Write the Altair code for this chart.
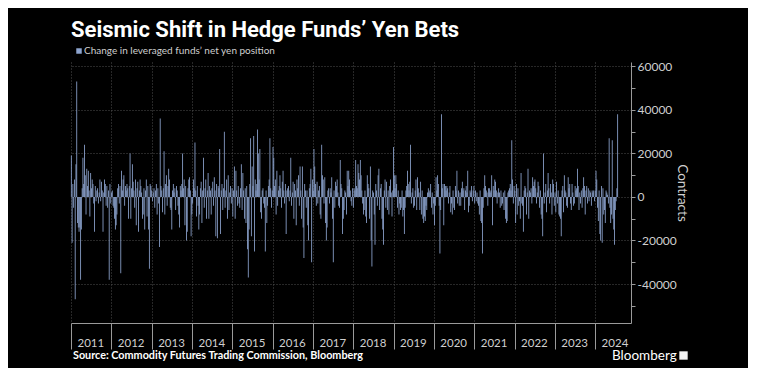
import altair as alt
import pandas as pd

TITLE = "Seismic Shift in Hedge Funds\u2019 Yen Bets"
SERIES = "Change in leveraged funds\u2019 net yen position"
SOURCE = "Source: Commodity Futures Trading Commission, Bloomberg"
LOGO = "Bloomberg"
FIRST_WEEK = "2011-01-04"

# weekly change in leveraged funds' net yen position, thousands of contracts
y2011 = [19, -21, 6, -5, 8, -47, 15, 53, -12, -14, -16, -14, -38, -15, 4, 18, 6, 24, 10, -8,
         13, 5, 12, 3, -9, 11, 4, 8, 6, -3, -16, 5, -2, 3, 4, -3, 2, 8, -2, 7,
         3, -16, 2, 8, 6, -4, 5, -5, 3, -38, 6, -3]
y2012 = [2, 3, -4, -5, -10, -15, -13, -8, 4, 6, -3, 5, -35, 12, 3, 8, 10, -4, 5, 3,
         6, 4, -10, 5, 20, -10, 4, 15, 7, 3, -5, 8, -13, 4, 7, -16, 3, 8, 5, 2,
         -10, -8, 4, -15, 3, 8, -9, 5, -15, -33, 6, 5]
y2013 = [3, -2, 2, 4, -5, 3, 6, -8, 4, -3, -23, 36, 5, 3, -7, 4, 21, -8, 6, 10,
         -4, 5, 13, 8, -5, -6, -15, 3, 6, 2, 4, -6, 5, 3, -4, -8, -14, 5, 3, 6,
         20, 4, 8, -13, 5, -20, -16, 4, 8, 9, 3, -18, -8]
y2014 = [-3, 8, 4, 25, 3, -9, 5, -4, -15, -8, 4, 7, -12, 3, 18, -5, 4, 8, -10, 3,
         11, -10, 5, 3, -8, 4, 7, -4, 9, 3, -18, 6, -19, 5, 4, 22, -17, 3, 6, -6,
         4, 30, -5, 3, 8, -10, 10, -6, 2, 5, -3, 4]
y2015 = [-9, 3, 14, -10, 12, 3, -4, 5, -3, -5, 4, 15, -6, 11, 3, -10, 4, -12, 5, -24,
         -37, -15, 6, 27, -18, 14, 5, 28, -25, 8, 3, 6, 31, 20, 8, 22, -7, -10, 3, 4,
         -3, -5, -25, 3, -12, -4, 5, 8, 27, 4, -5, 3]
y2016 = [23, 18, 5, 8, -8, 12, -4, 3, 5, 10, 4, -5, 7, 12, 3, -3, 6, -17, 3, 4,
         5, -2, 3, 18, -4, 2, 7, -10, 6, 3, -13, 8, 4, 10, -4, 14, 3, -10, 14, -14,
         -28, 6, 3, -5, 3, -13, -20, 4, 6, 13, -30, 8]
y2017 = [3, 22, 14, 6, -4, 7, -3, 3, 5, -8, -10, 24, 10, 8, -3, 9, -12, -20, -14, 3,
         4, -3, 4, 2, 9, -10, -30, 3, -5, 7, 5, 8, 2, -4, -5, 17, 6, 4, -17, -10,
         -6, 3, 2, -8, 12, 5, 12, 8, 3, -2, -4, 4]
y2018 = [-5, 4, 3, 17, 5, 4, 15, 11, 8, 17, 10, 3, -3, -8, -6, 3, -9, -12, 10, 6,
         4, -10, 14, -20, -32, 3, 2, -8, -22, 6, 3, -4, 10, 13, -6, 4, 6, -10, -15, -22,
         3, 8, -5, 7, -6, 3, -8, 5, 8, 2, -9, 3]
y2019 = [23, 10, 4, 10, 6, -5, 3, -8, -3, -6, -5, 3, -9, -6, -17, -5, 3, 5, 12, 6,
         3, 7, 24, -3, 2, 4, -5, -4, 3, 8, -6, 9, 4, 2, -6, 7, -8, 3, -10, -12,
         -9, -11, -4, -6, 2, 4, 2, 3, 6, -5, 2, -8, -3]
y2020 = [-13, -4, 9, 3, 10, 6, -4, -26, -6, 38, 4, 6, -13, 6, 5, 3, 5, 4, -3, 2,
         5, -7, -3, -8, 3, -5, -6, 5, 3, 12, -3, 3, -4, 2, -4, 4, 7, 3, 4, -6,
         3, 5, 2, 12, -7, -4, 3, 2, 5, -2, 3, 5]
y2021 = [-3, 3, -2, 2, -3, -4, -8, 3, -11, -12, -26, -5, 4, 10, 5, 3, 2, -4, 4, 4,
         2, 3, 10, -13, 5, 3, 8, 7, 3, -3, 2, 4, 2, -5, 3, -4, -3, 2, -6, 3,
         -10, -12, -11, 2, 3, 4, 6, 3, 26, 8, -3, 5]
y2022 = [3, -12, 6, -8, 4, -4, -2, -10, 11, -3, -4, -16, 3, 5, 4, -8, 2, 13, -10, 3,
         2, 4, -3, 9, 5, 7, 8, 4, -3, 2, 7, 5, -5, 3, -8, -10, -18, 20, -3, 2,
         6, -7, 3, 11, 4, -3, 6, 2, -8, 8, 6, -4]
y2023 = [2, -7, 7, -3, 3, -8, -9, -10, -18, 3, 5, -7, 10, 3, 2, -4, -5, 9, 4, 6,
         -3, -6, 6, 2, -4, -3, 5, 3, 4, 13, 5, -6, 2, -3, 3, -5, 4, 9, 5, -8,
         3, 5, -3, 4, -2, 3, 2, -4, 3, 2, 3, -2]
y2024 = [3, 12, 8, -5, -11, 3, -17, -20, 5, -21, 4, -8, -6, -12, 3, 2, 1, -3, 27, -5,
         -12, -8, 26, -10, -15, -22, -6, -2, 4, 38]

YEAR_TICKS = list(range(2011, 2025))
Y_TICKS = [-50000, -40000, -30000, -20000, -10000, 0, 10000, 20000, 30000, 40000, 50000, 60000]

thousands = (y2011 + y2012 + y2013 + y2014 + y2015 + y2016 + y2017 + y2018 + y2019
             + y2020 + y2021 + y2022 + y2023 + y2024)
df = pd.DataFrame({
    "date": pd.date_range(FIRST_WEEK, periods=len(thousands), freq="7D"),
    "value": [v * 1000 for v in thousands],
    "series": SERIES,
})

FONT = "Lato, sans-serif"
TFONT = "Roboto, Lato, sans-serif"
GRID = "#4f4f4f"
AXIS = "#9a9a9a"
LABEL = "#cfcfcf"

bars = alt.Chart(df).mark_bar(size=0.85).encode(
    x=alt.X(
        "date:T",
        scale=alt.Scale(domain=[alt.DateTime(year=2011, month=1, date=1),
                                alt.DateTime(year=2024, month=11, date=21)],
                        padding=0),
        axis=alt.Axis(
            values=[alt.DateTime(year=y, month=1, date=1) for y in YEAR_TICKS],
            format="%Y", title=None,
            tickSize=26, tickColor=AXIS, domainColor=AXIS,
            labelAlign="left", labelOffset=6, labelPadding=-12,
            labelColor=LABEL, labelFontSize=11.5, labelFont=FONT,
            labelOverlap=False, labelFlush=False,
            grid=True, gridColor=GRID, gridDash=[1, 2],
        ),
    ),
    y=alt.Y(
        "value:Q",
        scale=alt.Scale(domain=[-57900, 62000], nice=False, padding=0),
        axis=alt.Axis(
            orient="right", values=Y_TICKS,
            labelExpr="datum.value % 20000 == 0 ? datum.value : ''",
            title="Contracts", titleAngle=90, titleFontSize=13.5,
            titleFontWeight="normal", titleColor=LABEL, titleFont=FONT, titlePadding=-2,
            labelColor=LABEL, labelFontSize=12, labelFont=FONT, labelPadding=2,
            tickSize=4, tickColor=AXIS, domainColor=AXIS,
            grid=True, gridColor=GRID, gridDash=[1, 2],
            gridOpacity={"condition": {"test": "datum.value % 20000 == 0", "value": 1}, "value": 0},
        ),
    ),
    color=alt.Color(
        "series:N",
        scale=alt.Scale(range=["#8da4cf"]),
        legend=alt.Legend(
            orient="none", legendX=3, legendY=-16, title=None,
            symbolType="square", symbolSize=30, symbolStrokeWidth=0,
            labelFontSize=10, labelColor=LABEL, labelFont=FONT, labelOffset=0,
            labelLimit=0, padding=0,
        ),
    ),
)

src = alt.Chart(pd.DataFrame({"t": [SOURCE]})).mark_text(
    align="left", baseline="alphabetic", fontWeight="bold", fontSize=10.8,
    font=FONT, color="#ffffff",
).encode(x=alt.value(2), y=alt.value(297), text="t:N")

logo_df = pd.DataFrame({"t": [LOGO]})
logo = alt.Chart(logo_df).mark_text(
    align="left", baseline="alphabetic", fontSize=13.5,
    font=FONT, color="#ffffff",
).encode(x=alt.value(541), y=alt.value(298), text="t:N")

logo_icon = alt.Chart(logo_df).mark_square(size=70, color="#ffffff", opacity=0.95).encode(
    x=alt.value(612.5), y=alt.value(293.5)
)

chart = alt.layer(bars, src, logo, logo_icon).properties(
    width=560, height=261,
    padding={"left": 63, "top": 54, "right": 117, "bottom": 45},
    autosize=alt.AutoSizeParams(type="none"),
    title=alt.TitleParams(
        text=TITLE, anchor="start", frame="group", fontSize=22, font=TFONT,
        fontWeight="bold", color="#ffffff", offset=4,
    ),
).configure(background="#000000").configure_view(stroke=None)

chart.save("out.html", embed_options={"renderer": "svg", "actions": False})
